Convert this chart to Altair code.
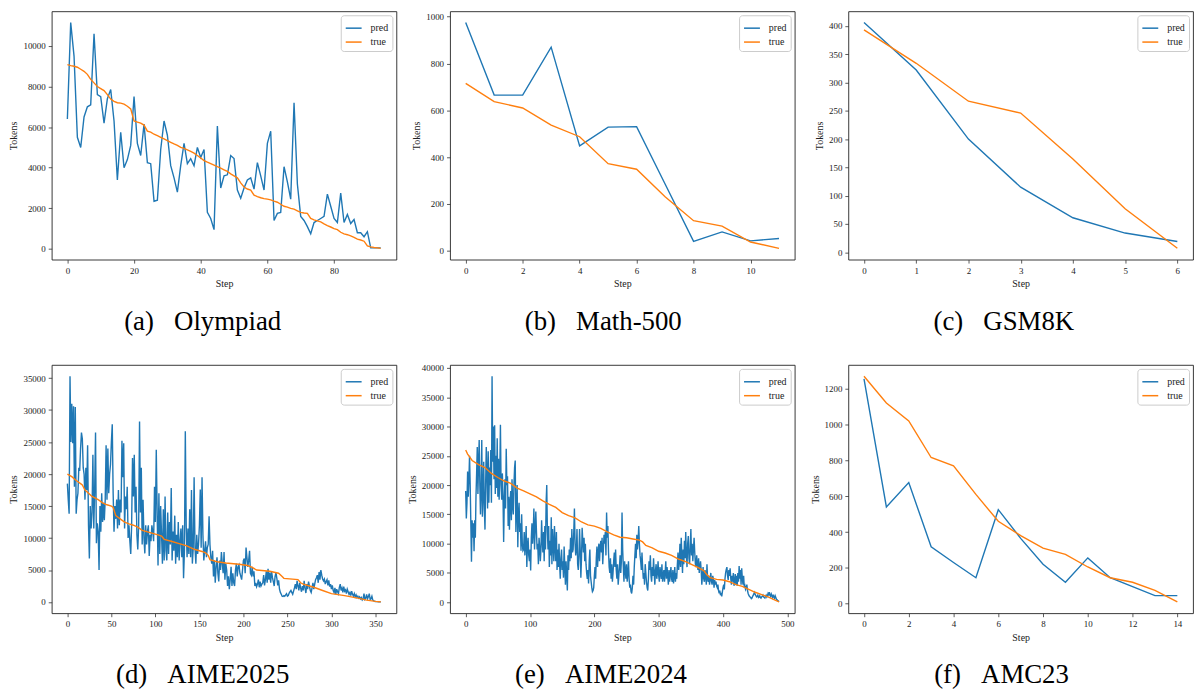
import altair as alt
import pandas as pd

SERIF = "Liberation Serif"
BLUE = "#1f77b4"
ORANGE = "#ff7f0e"

# ---------------- (a) Olympiad ----------------
a_pred = [6400, 11150, 9500, 5500, 5000, 6500, 7000, 7100, 10600, 7600,
          7500, 6200, 7400, 7850, 6300, 3400, 5750, 4000, 4400, 5100,
          7500, 5200, 4600, 6150, 4250, 4200, 2350, 2400, 4900, 6300,
          5600, 4100, 3500, 2800, 4100, 5200, 4200, 4450, 4100, 5000,
          4500, 4900, 1800, 1500, 950, 6050, 3000, 3600, 3650, 4600,
          4450, 2900, 2500, 3000, 3400, 3500, 2950, 4250, 3600, 2900,
          5200, 5800, 1400, 1750, 1800, 4050, 3300, 2450, 7200, 3200,
          1600, 1400, 1100, 750, 1300, 1400, 1500, 1600, 2700, 2100,
          1500, 1300, 2750, 1300, 1700, 1250, 1450, 800, 800, 600,
          850, 50, 50, 50, 50]
a_true = [9080, 9030, 9000, 8950, 8850, 8750, 8600, 8350, 8180, 8000,
          7900, 7800, 7600, 7380, 7270, 7200, 7180, 7130, 7030, 6900,
          6300, 6250, 6200, 6100, 5800, 5750, 5650, 5580, 5500, 5420,
          5330, 5250, 5170, 5100, 5000, 4950, 4880, 4800, 4720, 4600,
          4480, 4350, 4270, 4200, 4130, 4050, 3980, 3900, 3820, 3700,
          3600, 3500, 3250, 3050, 2950, 2900, 2650, 2580, 2520, 2480,
          2450, 2420, 2350, 2300, 2200, 2100, 2060, 2000, 1960, 1880,
          1800, 1770, 1750, 1500, 1430, 1380, 1330, 1230, 1150, 1080,
          1000, 950, 820, 740, 700, 640, 570, 480, 440, 380,
          150, 100, 70, 50, 30]

# ---------------- (b) Math-500 ----------------
b_pred = [975, 665, 665, 870, 448, 528, 530, 285, 40, 80, 42, 52]
b_true = [715, 637, 610, 537, 487, 372, 348, 230, 128, 105, 37, 10]

# ---------------- (c) GSM8K ----------------
c_pred = [406, 322, 200, 115, 61, 34, 19]
c_true = [393, 334, 267, 246, 165, 77, 7]

# ---------------- (d) AIME2025 ----------------
d_pred = [18500, 16000, 13800, 35300, 25000, 31000, 24800, 30600, 18000, 30500, 13800,
          16000, 17000, 21000, 20500, 24000, 26500, 25500, 21000, 20000, 16000,
          21000, 17500, 24500, 12000, 6800, 15000, 11500, 14000, 23000, 11500,
          17500, 26500, 9200, 12300, 11000, 5000, 15000, 11000, 17000, 12500,
          15500, 12800, 16000, 24500, 16000, 24000, 17000, 20000, 21500, 25000,
          27800, 17000, 11000, 15000, 13000, 16000, 11500, 17500, 12000, 16000,
          14000, 25200, 19500, 24800, 11500, 16500, 14500, 18000, 10000, 12000,
          9500, 7500, 12000, 22500, 16500, 23000, 14000, 18000, 10500, 8200,
          12000, 28200, 14000, 21000, 9000, 16000, 10000, 7600, 12000, 9000,
          11000, 12000, 7200, 10500, 9500, 12000, 11000, 9500, 18000, 12500,
          23800, 14000, 5700, 17000, 7500, 15000, 10500, 6000, 14500, 6500,
          16500, 8000, 6500, 14000, 7500, 12500, 9000, 17800, 6500, 11000,
          8000, 13500, 6000, 10500, 7000, 12500, 6500, 9500, 11500, 7000,
          12000, 3700, 8000, 26700, 12000, 7000, 11500, 7500, 14500, 7000,
          17500, 6000, 8500, 19500, 8500, 6000, 10500, 7500, 9000, 12000,
          17600, 8500, 19500, 10500, 6500, 8000, 9500, 7000, 8500, 9000,
          13400, 9000, 7000, 6000, 8000, 4000, 6500, 3000, 5500, 7000,
          4500, 3200, 6500, 5000, 7800, 6000, 4500, 7800, 3500, 6000,
          5000, 2500, 4000, 2000, 3500, 5500, 2500, 4500, 3000, 2500,
          5000, 6000, 4000, 5500, 5800, 4500, 4000, 3500, 5000, 6500,
          6800, 4500, 8500, 7000, 5500, 6500, 8000, 4500, 4200, 5500,
          4000, 4800, 2500, 3000, 2400, 2800, 3500, 2300, 3200, 2500,
          2800, 3000, 4200, 2600, 3500, 4800, 3000, 5200, 3500, 4600,
          3000, 4800, 3800, 3200, 2500, 4000, 4600, 3700, 2600, 3400,
          2000, 1500, 1200, 900, 850, 1000, 900, 1100, 1300, 900,
          1000, 1400, 1600, 1800, 1500, 1200, 1700, 2200, 2800, 2000,
          3300, 2500, 1800, 3000, 2200, 1600, 2500, 1800, 3300, 2200,
          1400, 2800, 2000, 3200, 2500, 1800, 1500, 2200, 3000, 2000,
          2800, 3500, 3800, 4200, 3000, 4700, 3500, 5000, 4200, 3600,
          3300, 3600, 2800, 3200, 3500, 2600, 3400, 2400, 2800, 2000,
          2600, 1800, 1500, 2200, 1200, 2000, 1600, 1300, 2300, 2800,
          1800, 2200, 1500, 2400, 1700, 1900, 1300, 2000, 1600, 1200,
          1500, 1000, 1700, 1200, 900, 1300, 800, 1100, 700, 900,
          600, 800, 500, 700, 300, 500, 1300, 400, 600, 1200,
          500, 800, 1300, 400, 500, 900, 300, 200, 100, 80,
          60, 50, 40, 30, 20, 10]
d_true_steps = [0, 5, 10, 15, 17, 20, 25, 28, 35, 40, 45, 50, 52, 55, 60, 65, 70,
                75, 80, 85, 95, 103, 107, 110, 118, 125, 135, 145, 153, 157, 160,
                162, 170, 180, 195, 205, 210, 215, 230, 240, 244, 246, 262, 265,
                268, 275, 280, 290, 300, 315, 330, 340, 350, 356]
d_true = [20000, 19600, 19000, 18500, 18300, 17500, 16900, 16500, 16000, 15500,
          15200, 15000, 14800, 13500, 13000, 12500, 12200, 12000, 11700, 11200,
          10800, 10500, 10300, 9800, 9500, 9200, 8800, 8200, 7900, 7700, 7300,
          6600, 6300, 6100, 5900, 5700, 5400, 5000, 4800, 4500, 4000, 3700,
          3500, 3000, 2800, 2500, 2300, 1800, 1300, 1000, 600, 300, 100, 30]

# ---------------- (e) AIME2024 ----------------
e_pred = [19000, 14300, 17000, 22300, 18000, 21000, 25000, 20000, 13500, 6900,
          14000, 11000, 13500, 8700, 14000, 11000, 18000, 22000, 26500, 18500,
          24000, 27700, 20000, 15000, 19000, 27700, 14600, 18000, 24000, 16000,
          12400, 20000, 26500, 22000, 16000, 25800, 17000, 23000, 20000, 26000,
          17000, 38600, 24000, 30000, 21000, 30200, 18500, 25000, 19500, 28000,
          18000, 24500, 17500, 22000, 30300, 20000, 17500, 22000, 18000, 10300,
          17500, 21000, 16000, 26200, 20000, 21500, 13000, 18000, 12400, 17000,
          19000, 14000, 21000, 16500, 15000, 20000, 23000, 24200, 12000, 16000,
          20000, 9400, 15000, 17000, 12000, 13500, 8800, 15000, 10000, 8800,
          9000, 12000, 8000, 10000, 13000, 6000, 9500, 11000, 8000, 7000,
          9000, 5400, 11000, 13500, 10000, 12000, 16000, 9000, 12500, 15500,
          12000, 9000, 10000, 6500, 11000, 9500, 7000, 9000, 14000, 10500,
          8500, 12000, 7000, 13000, 9000, 17000, 20000, 12000, 9000, 13000,
          6000, 10500, 8000, 14500, 6500, 12500, 10000, 7000, 13000, 9500,
          7000, 12000, 5500, 9000, 6000, 10000, 6500, 4000, 7500, 9000,
          5500, 7000, 4200, 9500, 6000, 3000, 7000, 4500, 2000, 8000,
          5500, 9000, 7000, 11000, 7500, 12500, 8500, 9000, 12000, 16000,
          10000, 8000, 9000, 12500, 6500, 5500, 8000, 12500, 9000, 4200,
          7500, 12700, 10500, 8500, 11000, 7000, 10000, 6500, 5000, 4000,
          5500, 3200, 7000, 9000, 4500, 3500, 2500, 1800, 2000, 2500,
          4500, 6000, 4000, 7500, 9500, 6000, 8500, 10000, 7000, 9500,
          10500, 8500, 11000, 6500, 9000, 11500, 10000, 12000, 8000, 15300,
          11000, 13000, 8500, 6000, 5000, 7500, 4000, 6500, 3500, 5000,
          7000, 8500, 6000, 9000, 5500, 4000, 6500, 3000, 4500, 6000,
          8000, 5000, 7000, 15300, 9000, 6000, 3500, 7000, 5500, 4000,
          6500, 3500, 5000, 7000, 4000, 2500, 3000, 1800, 1500, 2500,
          4500, 3000, 6000, 8000, 10000, 7500, 11500, 9000, 10500, 13000,
          10000, 8000, 7000, 5500, 8500, 6000, 4000, 5000, 3000, 6500,
          5000, 3500, 2500, 2000, 4000, 7000, 5500, 8000, 4500, 3500,
          6000, 4500, 7500, 5000, 3000, 5500, 6500, 4000, 5000, 7000,
          4500, 3500, 6000, 5000, 4000, 6500, 3500, 4500, 5500, 3500,
          5000, 7000, 4000, 6000, 4500, 3000, 5500, 3500, 4800, 6000,
          4000, 3500, 5500, 3200, 4500, 6000, 3500, 5000, 4000, 6500,
          8500, 5500, 7000, 10000, 6000, 11000, 8000, 5000, 9000, 6500,
          10500, 7500, 12000, 8000, 6000, 10000, 11300, 7500, 6500, 9500,
          12500, 8000, 10000, 7000, 9000, 11000, 8500, 6500, 6000, 8000,
          6500, 5500, 7500, 5000, 6000, 7000, 5500, 3000, 4500, 6000,
          4000, 3500, 5500, 4500, 3000, 6500, 4000, 3500, 4500, 3000,
          4000, 5000, 3500, 3000, 4500, 4000, 2500, 3800, 3000, 3500,
          2800, 2500, 3000, 2000, 1500, 2000, 1200, 1600, 1000, 1800,
          2500, 3000, 2200, 4000, 5000, 5600, 6000, 4500, 3800, 5500,
          4500, 5800, 4000, 3000, 4500, 3500, 5000, 2800, 3500, 4800,
          3000, 4500, 2800, 5000, 3500, 6200, 4000, 5500, 3000, 5800,
          4000, 3000, 4500, 2500, 2800, 2200, 2500, 3000, 2000, 1500,
          1200, 1000, 900, 800, 600, 700, 1000, 1200, 1500, 1700,
          1300, 1100, 900, 1000, 1200, 800, 900, 1100, 800, 700,
          900, 1000, 1200, 900, 800, 700, 1000, 1200, 900, 1100,
          1500, 1300, 1700, 1200, 1000, 1400, 1100, 800, 1300, 900,
          700, 1100, 800, 500, 400, 300, 200, 100]
e_true_steps = [0, 3, 5, 10, 20, 30, 40, 50, 60, 70, 80, 90, 100, 110, 120, 130,
                140, 150, 160, 170, 180, 190, 200, 210, 220, 230, 240, 250, 260,
                270, 275, 280, 290, 300, 310, 320, 330, 340, 350, 360, 370, 375,
                380, 390, 400, 410, 420, 430, 440, 450, 460, 470, 480, 487]
e_true = [26000, 25300, 25000, 24200, 23500, 23000, 22000, 21300, 20700, 20300,
          19500, 19000, 18500, 18000, 17300, 16700, 16200, 15300, 14800, 14400,
          13700, 13200, 13000, 12600, 12000, 11500, 11100, 11000, 10800, 10600,
          10300, 9700, 9300, 8700, 8400, 8000, 7400, 7000, 6500, 6000, 5400,
          4700, 4200, 3900, 3800, 3500, 3000, 2700, 2200, 1700, 1300, 900, 400, 50]

# ---------------- (f) AMC23 ----------------
f_pred = [1255, 540, 676, 318, 230, 145, 525, 365, 220, 120, 256, 145, 95, 45, 45]
f_true = [1270, 1120, 1020, 816, 770, 610, 460, 380, 310, 275, 205, 145, 120, 75, 10]

GAP = "\u00a0\u00a0\u00a0"
captions = ["(a)" + GAP + "Olympiad", "(b)" + GAP + "Math-500", "(c)" + GAP + "GSM8K",
            "(d)" + GAP + "AIME2025", "(e)" + GAP + "AIME2024", "(f)" + GAP + "AMC23"]
x_ticks = [[0, 20, 40, 60, 80], [0, 2, 4, 6, 8, 10], [0, 1, 2, 3, 4, 5, 6],
           [0, 50, 100, 150, 200, 250, 300, 350], [0, 100, 200, 300, 400, 500],
           [0, 2, 4, 6, 8, 10, 12, 14]]
y_ticks = [[0, 2000, 4000, 6000, 8000, 10000], [0, 200, 400, 600, 800, 1000],
           [0, 50, 100, 150, 200, 250, 300, 350, 400],
           [0, 5000, 10000, 15000, 20000, 25000, 30000, 35000],
           [0, 5000, 10000, 15000, 20000, 25000, 30000, 35000, 40000],
           [0, 200, 400, 600, 800, 1000, 1200]]

PW, PH = 347, 250


def panel(pred, true, true_steps, xt, yt, caption):
    ps = list(range(len(pred)))
    ts = true_steps if true_steps is not None else list(range(len(true)))
    df = pd.DataFrame({
        "step": ps + list(ts),
        "tokens": pred + true,
        "series": ["pred"] * len(pred) + ["true"] * len(true),
    })
    xs = df["step"]
    ys = df["tokens"]
    xr = xs.max() - xs.min()
    yr = ys.max() - ys.min()
    xdom = [float(xs.min() - 0.05 * xr), float(xs.max() + 0.05 * xr)]
    ydom = [float(ys.min() - 0.05 * yr), float(ys.max() + 0.05 * yr)]
    color = alt.Color("series:N", title=None,
                      scale=alt.Scale(domain=["pred", "true"], range=[BLUE, ORANGE]))
    enc = dict(
        x=alt.X("step:Q", scale=alt.Scale(domain=xdom, nice=False, zero=False),
                axis=alt.Axis(values=xt, title="Step", format="d")),
        y=alt.Y("tokens:Q", scale=alt.Scale(domain=ydom, nice=False, zero=False),
                axis=alt.Axis(values=yt, title="Tokens", format="d")),
        color=color,
    )
    l1 = alt.Chart(df).transform_filter(alt.datum.series == "pred").mark_line(strokeWidth=1.4).encode(**enc)
    l2 = alt.Chart(df).transform_filter(alt.datum.series == "true").mark_line(strokeWidth=1.4).encode(**enc)
    return alt.layer(l1, l2).properties(
        width=PW, height=PH,
        title=alt.TitleParams(text=caption, orient="bottom", anchor="middle", frame="bounds",
                              fontSize=27, font=SERIF, fontWeight="normal", offset=20,
                              color="black"),
    )


panels = [
    panel(a_pred, a_true, None, x_ticks[0], y_ticks[0], captions[0]),
    panel(b_pred, b_true, None, x_ticks[1], y_ticks[1], captions[1]),
    panel(c_pred, c_true, None, x_ticks[2], y_ticks[2], captions[2]),
    panel(d_pred, d_true, d_true_steps, x_ticks[3], y_ticks[3], captions[3]),
    panel(e_pred, e_true, e_true_steps, x_ticks[4], y_ticks[4], captions[4]),
    panel(f_pred, f_true, None, x_ticks[5], y_ticks[5], captions[5]),
]

chart = alt.concat(
    *panels, columns=3, spacing={"row": 106, "column": 54}, bounds="flush"
).resolve_scale(
    x="independent", y="independent", color="independent"
).resolve_legend(
    color="independent"
).properties(
    padding=0
).configure_view(
    stroke="#222", strokeWidth=0.9
).configure_axis(
    labelFont=SERIF, labelFontSize=9, labelColor="#222",
    titleFont=SERIF, titleFontSize=10, titleFontWeight="normal", titleColor="#222",
    tickSize=3.5, tickColor="#333", tickWidth=0.8, domain=False, grid=False,
    labelPadding=3, titlePadding=4,
).configure_legend(
    orient="top-right", offset=4, padding=4, strokeColor="#cccccc", fillColor="white",
    cornerRadius=3, labelFont=SERIF, labelFontSize=10, labelColor="#222",
    symbolType="stroke", symbolSize=256, symbolStrokeWidth=1.5, rowPadding=0,
    labelOffset=8,
)

chart.save("out.html", embed_options={"renderer": "svg", "actions": False})
